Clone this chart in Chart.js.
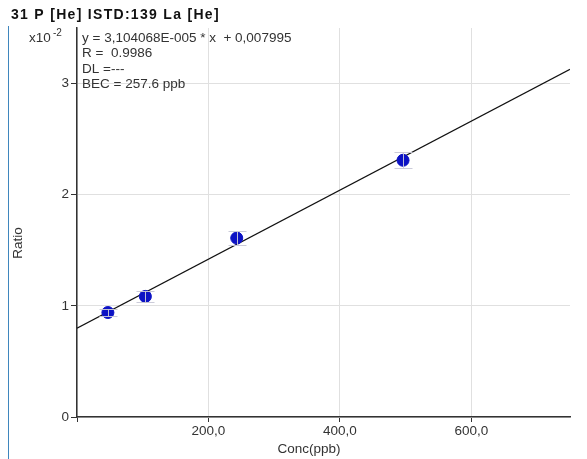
<!DOCTYPE html>
<html>
<head>
<meta charset="utf-8">
<script src="https://cdn.jsdelivr.net/npm/chart.js@4.4.1/dist/chart.umd.min.js"></script>
<style>
  html, body { margin: 0; padding: 0; background: #fff; }
  #wrap { width: 587px; height: 459px; position: relative; }
</style>
</head>
<body>
<div id="wrap"><canvas id="c" width="587" height="459"></canvas></div>
<script>
// Calibration standards: concentration (ppb) and ratio (x10^-2)
const concPpb = [47, 104, 243, 496];
const ratioE2 = [0.94, 1.085, 1.61, 2.31];
const ratioErr = [0.035, 0.05, 0.06, 0.07];

// Fit parameters as printed on the chart
const slope = 3.104068E-005;
const intercept = 0.007995;
const fitR = '0.9986';
const bec = '257.6 ppb';

const xTicks = [0, 200, 400, 600];
const yTicks = [0, 1, 2, 3];
const xRange = [0, 750];
const yRange = [0, 3.5];

// Regression line over the full x range, scaled to x10^-2
const fitLine = xRange.map(x => ({ x: x, y: (slope * x + intercept) * 100 }));
const points = concPpb.map((x, i) => ({ x: x, y: ratioE2[i] }));

const FONT = "'Liberation Sans', Arial, sans-serif";
const FS = 13.5;
const fmtNum = v => v.toFixed(6).replace(/\.?0+$/, '');
const annotationLines = [
  'y = ' + slope.toExponential(6).replace('.', ',').replace(/e-(\d)$/, 'E-00$1') + ' * x  + ' + fmtNum(intercept).replace('.', ','),
  'R =  ' + fitR,
  'DL =---',
  'BEC = ' + bec
];

const decorations = {
  id: 'decorations',
  afterDatasetsDraw(chart) {
    const ctx = chart.ctx;
    const xs = chart.scales.x, ys = chart.scales.y;
    // error bars over the markers
    ctx.save();
    ctx.strokeStyle = 'rgba(200,200,215,0.95)';
    ctx.lineWidth = 1;
    points.forEach((p, i) => {
      const px = Math.round(xs.getPixelForValue(p.x)) + 0.5;
      const top = Math.round(ys.getPixelForValue(p.y + ratioErr[i])) + 0.5;
      const bot = Math.round(ys.getPixelForValue(p.y - ratioErr[i])) + 0.5;
      ctx.beginPath();
      ctx.moveTo(px, top); ctx.lineTo(px, bot);
      ctx.moveTo(px - 9, top); ctx.lineTo(px + 9, top);
      ctx.moveTo(px - 9, bot); ctx.lineTo(px + 9, bot);
      ctx.stroke();
    });
    ctx.restore();
  },
  afterDraw(chart) {
    const ctx = chart.ctx;
    const area = chart.chartArea;
    ctx.save();
    // left panel edge
    ctx.strokeStyle = '#3f86bd';
    ctx.lineWidth = 1;
    ctx.beginPath();
    ctx.moveTo(8.5, 26); ctx.lineTo(8.5, 459);
    ctx.stroke();

    ctx.fillStyle = '#111';
    ctx.textBaseline = 'middle';
    ctx.textAlign = 'left';
    ctx.font = 'bold 14px ' + FONT;
    ctx.letterSpacing = '1.3px';
    ctx.fillText('31 P [He] ISTD:139 La [He]', 11, 15);
    ctx.letterSpacing = '0px';

    ctx.fillStyle = '#333';
    ctx.font = FS + 'px ' + FONT;
    ctx.fillText('x10', 29, 38);
    ctx.font = '10px ' + FONT;
    ctx.fillText('-2', 53, 33);

    ctx.font = FS + 'px ' + FONT;
    annotationLines.forEach((t, i) => ctx.fillText(t, area.left + 5, 38 + i * 15.4));

    ctx.textAlign = 'center';
    ctx.fillText('Conc(ppb)', 309, 449);
    ctx.translate(18, 243);
    ctx.rotate(-Math.PI / 2);
    ctx.fillText('Ratio', 0, 0);
    ctx.restore();
  }
};

new Chart(document.getElementById('c'), {
  type: 'scatter',
  data: {
    datasets: [
      {
        type: 'line',
        data: fitLine,
        borderColor: '#111',
        borderWidth: 1.2,
        pointRadius: 0,
        fill: false,
        order: 2
      },
      {
        data: points,
        backgroundColor: '#0c12c4',
        borderColor: '#0c12c4',
        pointRadius: 6,
        pointHoverRadius: 6,
        order: 1
      }
    ]
  },
  options: {
    responsive: false,
    animation: false,
    events: [],
    layout: { padding: { top: 28, right: 17, left: 0, bottom: 0 } },
    plugins: { legend: { display: false }, tooltip: { enabled: false } },
    scales: {
      x: {
        type: 'linear',
        min: xRange[0],
        max: xRange[1],
        afterBuildTicks: s => { s.ticks = xTicks.map(v => ({ value: v })); },
        afterFit: s => { s.height = 42; },
        ticks: {
          callback: v => v === 0 ? '' : v.toFixed(1).replace('.', ','),
          color: '#333',
          font: { family: FONT, size: FS },
          padding: 1,
          maxRotation: 0
        },
        grid: { color: '#e0e0e0', tickColor: '#333', tickLength: 5, lineWidth: 1 },
        border: { color: '#333', width: 1.5 }
      },
      y: {
        type: 'linear',
        min: yRange[0],
        max: yRange[1],
        afterBuildTicks: s => { s.ticks = yTicks.map(v => ({ value: v })); },
        afterFit: s => { s.width = 77; },
        ticks: {
          callback: v => String(v),
          color: '#333',
          font: { family: FONT, size: FS },
          padding: 2
        },
        grid: { color: '#e0e0e0', tickColor: '#333', tickLength: 6, lineWidth: 1 },
        border: { color: '#333', width: 1.5 }
      }
    }
  },
  plugins: [decorations]
});
</script>
</body>
</html>
